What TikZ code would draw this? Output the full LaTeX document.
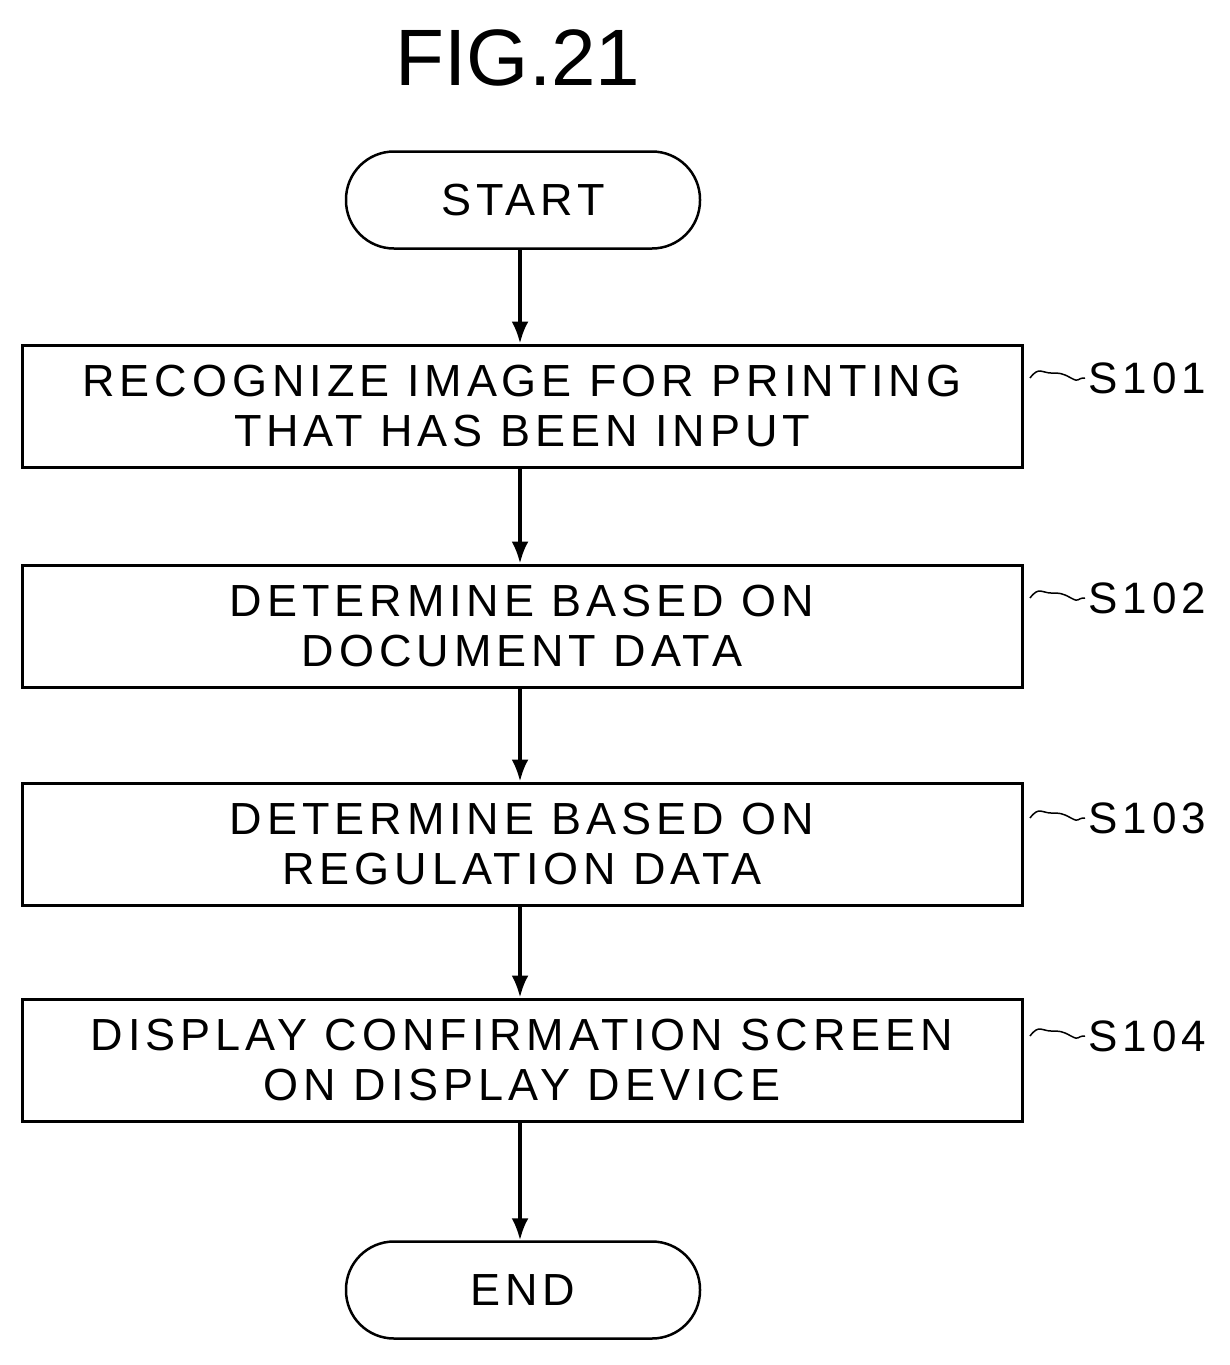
\documentclass[tikz,border=0pt]{standalone}
\usepackage{fontspec}
\setmainfont{Liberation Sans}
\newfontfamily\spaced[LetterSpace=11]{Liberation Sans}
\begin{document}
\begin{tikzpicture}[x=1pt,y=-1pt,
  box/.style={draw,line width=3pt,minimum width=1000pt,minimum height=122pt,align=center,font=\spaced\fontsize{45}{50}\selectfont},
  term/.style={draw,line width=2.5pt,rounded corners=48pt,minimum width=354pt,minimum height=97pt,font=\spaced\fontsize{45}{50}\selectfont},
  arr/.style={line width=3.5pt,-{Latex[length=22pt,width=17pt]}},
  lab/.style={font=\spaced\fontsize{44}{46}\selectfont,anchor=west},
  sq/.style={line width=1.5pt}]
\usetikzlibrary{arrows.meta}
\useasboundingbox (0,0) rectangle (1230,1365);
\node (title) at (518,58) {\fontsize{80}{80}\selectfont FIG.21};
\node[term] (start) at (523,200) {START};
\node[box] (b1) at (522,406) {RECOGNIZE IMAGE FOR PRINTING\\THAT HAS BEEN INPUT};
\node[box] (b2) at (522,626) {DETERMINE BASED ON\\DOCUMENT DATA};
\node[box] (b3) at (522,844) {DETERMINE BASED ON\\REGULATION DATA};
\node[box] (b4) at (522,1060) {DISPLAY CONFIRMATION SCREEN\\ON DISPLAY DEVICE};
\node[term] (end) at (523,1290) {END};
\draw[arr] (start.south -| 520,0) -- (b1.north -| 520,0);
\draw[arr] (b1.south -| 520,0) -- (b2.north -| 520,0);
\draw[arr] (b2.south -| 520,0) -- (b3.north -| 520,0);
\draw[arr] (b3.south -| 520,0) -- (b4.north -| 520,0);
\draw[arr] (b4.south -| 520,0) -- (end.north -| 520,0);
\foreach \n/\y/\t in {s1/378/S101,s2/598/S102,s3/818/S103,s4/1036/S104}{
  \node[lab] (\n) at (1085,\y) {\t};
  \coordinate (\n a) at (1030,\y);
  \draw[sq] (\n a) .. controls ++(9,-12) and ++(-9,0) .. ++(21,-5) .. controls ++(9,0) and ++(-9,-5) .. ++(20,5) .. controls ++(9,5) and ++(-9,0) .. (\n.west);
}
\end{tikzpicture}
\end{document}
